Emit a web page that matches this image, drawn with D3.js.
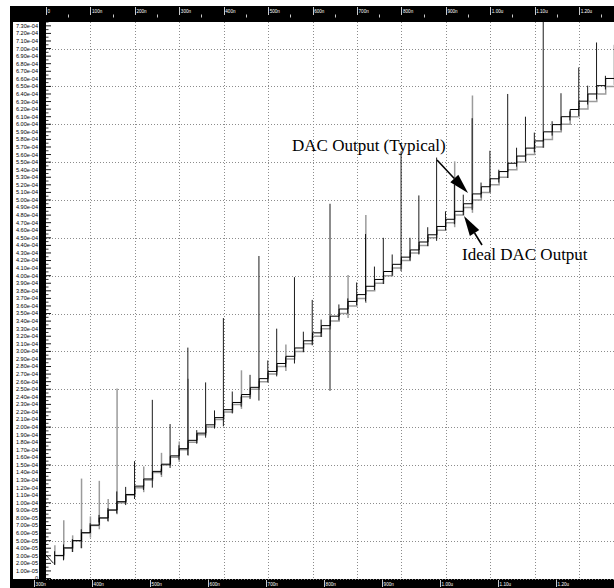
<!DOCTYPE html>
<html><head><meta charset="utf-8">
<script src="https://cdn.jsdelivr.net/npm/d3@7"></script>
<style>html,body{margin:0;padding:0;background:#fff;}svg{display:block;}</style>
</head><body>
<svg id="chart" width="614" height="588"></svg>
<script>
// ---- data (current in units of 1e-5 A, time in ns) ----
// start of each code interval (each lasts 20 ns)
const stepStart = [20,40,60,80,100,120,140,160,180,200,220,240,260,280,300,320,340,360,380,400,
  420,440,460,480,500,520,540,560,580,600,620,640,660,680,700,720,740,760,780,800,
  820,840,860,880,900,920,940,960,980,1000,1020,1040,1060,1080,1100,1120,1140,1160,1180,1200,
  1220,1240,1260];
const stepEnd = 1280;
// ideal DAC output level in each interval
const idealLevel = [3,4,5,6,7,8,9,10,11,12,13,14,15,16,17,18,19,20,21,22,
  23,24,25,26,27,28,29,30,31,32,33,34,35,36,37,38,39,40,41,42,
  43,44,45,46,47,48,49,50,51,52,53,54,55,56,57,58,59,60,61,62,
  63,64,65];
// typical DAC output level in each interval
const typicalLevel = [3.05,4.05,5.0,6.05,7.05,8.0,9.05,
  10.15,11.1,12.2,13.15,14.15,15.1,16.2,17.15,
  18.25,19.2,20.3,21.25,22.3,23.25,24.3,25.25,
  26.4,27.35,28.4,29.35,30.45,31.4,32.45,33.4,
  34.65,35.6,36.6,37.5,38.6,39.5,40.55,41.5,
  42.45,43.4,44.45,45.4,46.5,47.45,48.5,49.5,
  50.8,51.75,52.8,53.75,54.85,55.8,56.85,57.8,
  59.0,59.95,61.0,61.95,63.05,64.0,65.1,66.05];
// settling of the typical output before the first code edge
const settleTime = [0,17];
const settleLevel = [3.1,2.0];
// code-edge glitches of the typical output
const glitchTime = [20,40,60,80,100,120,140,160,180,200,220,240,260,280,300,320,340,360,380,400,
  420,440,460,480,500,520,540,560,580,600,620,640,660,680,700,720,740,760,780,800,
  820,840,860,880,900,920,940,960,980,1000,1020,1040,1060,1080,1100,1120,1140,1160,1180,1200,
  1220,1240,1260,1280];
const glitchHigh = [3.6,4.5,5.2,6.5,7.3,8.4,9.3,11.5,12.1,15.5,12.3,23.6,14.5,20.4,17.6,30.5,19.6,25.9,22.2,34.4,
  24.7,24.0,26.9,42.6,28.8,33.0,29.2,39.8,32.6,36.8,34.2,49.5,36.2,37.0,39.1,45.5,41.2,45.0,42.8,56.4,
  45.0,50.6,46.4,55.6,48.5,52.0,50.7,60.8,52.3,56.5,54.0,64.0,56.9,61.0,58.9,74.5,60.4,64.1,61.7,67.5,
  65.1,70.8,66.4,70.5];
const glitchLow = [1.8,2.4,3.5,4.0,6.0,7.4,7.6,8.6,9.7,10.5,11.7,12.0,13.7,14.6,15.7,16.3,17.8,18.6,19.8,20.1,
  21.8,22.7,23.7,23.5,25.9,26.7,27.9,28.4,29.9,30.8,31.9,24.8,34.1,35.0,36.1,36.6,38.1,38.9,40.0,40.6,
  42.0,42.8,43.9,44.6,46.0,46.8,48.0,48.7,50.3,51.0,52.3,52.9,54.4,55.1,56.3,56.9,58.5,59.2,60.5,61.1,
  62.6,63.3,64.6,65.2];
// code-edge glitches of the ideal trace
const idealGlitchTime = [20,40,60,80,100,120,140,160,220,260,300,320,440,540,680,720,920,960];
const idealGlitchHigh = [4.4,7.7,5.7,13.2,8.2,12.9,10.5,25.1,14.8,16.6,18.1,26.4,27.5,30.9,40.1,48.0,55.1,63.8];
const idealGlitchLow = [1.8,2.5,3.5,4.0,5.4,6.5,7.5,8.5,11.4,13.4,15.4,16.2,22.4,27.4,34.4,36.4,46.4,48.3];

// axis ticks
const topTicks = [0,100,200,300,400,500,600,700,800,900,1000,1100,1200];
const topLabels = ["0","100n","200n","300n","400n","500n","600n","700n","800n","900n","1.00u","1.10u","1.20u"];
const bottomTicks = [300,400,500,600,700,800,900,1000,1100,1200];
const bottomLabels = ["300n","400n","500n","600n","700n","800n","900n","1.00u","1.10u","1.20u"];
const gridY = [0,5,10,15,20,25,30,35,40,45,50,55,60,65,70];
const gridX = [100,200,300,400,500,600,700,800,900,1000,1100,1200];
const yLabelMax = 73;

// ---- scales ----
const svg = d3.select("#chart");
const x = d3.scaleLinear().domain([0, 1280]).range([46, 614.6]);
const xb = d3.scaleLinear().domain([300, 1300]).range([34, 614]);
const y = d3.scaleLinear().domain([0, 73.6]).range([578.5, 21.3]);

// ---- frame ----
svg.append("rect").attr("x", 10).attr("y", 6).attr("width", 604).attr("height", 16).attr("fill", "#000");
svg.append("rect").attr("x", 10).attr("y", 579).attr("width", 604).attr("height", 9).attr("fill", "#000");
svg.append("rect").attr("x", 10).attr("y", 6).attr("width", 3).attr("height", 582).attr("fill", "#000");
svg.append("rect").attr("x", 39).attr("y", 6).attr("width", 7).attr("height", 582).attr("fill", "#000");

// ---- grid ----
const grid = svg.append("g").attr("stroke", "#8c8c8c").attr("stroke-width", 1).attr("stroke-dasharray", "1,2");
grid.selectAll("line.gy").data(gridY).join("line").attr("class", "gy")
  .attr("x1", 46).attr("x2", 614).attr("y1", d => Math.round(y(d)) + 0.5).attr("y2", d => Math.round(y(d)) + 0.5);
grid.selectAll("line.gx").data(gridX).join("line").attr("class", "gx")
  .attr("x1", d => Math.round(x(d)) + 0.5).attr("x2", d => Math.round(x(d)) + 0.5).attr("y1", 22).attr("y2", 578);

// ---- left axis ----
const yMajor = d3.range(0, yLabelMax + 1);
const yMinor = d3.range(0.5, yLabelMax + 0.6, 1);
const fmt = v => {
  if (v === 0) return "0";
  const s = (v * 1e-5).toExponential(2);
  const [m, e] = s.split("e");
  const n = Math.abs(+e);
  return m + "e" + (+e < 0 ? "-" : "+") + (n < 10 ? "0" + n : n);
};
const yAx = svg.append("g");
yAx.selectAll("line.mj").data(yMajor).join("line").attr("class", "mj")
  .attr("x1", 45).attr("x2", 51).attr("y1", d => y(d)).attr("y2", d => y(d))
  .attr("stroke", "#000").attr("stroke-width", 0.9);
yAx.selectAll("line.mn").data(yMinor).join("line").attr("class", "mn")
  .attr("x1", 45).attr("x2", 48.5).attr("y1", d => y(d)).attr("y2", d => y(d))
  .attr("stroke", "#000").attr("stroke-width", 0.8);
yAx.selectAll("text").data(yMajor).join("text")
  .attr("x", 38).attr("y", d => y(d)).attr("dy", "0.35em").attr("text-anchor", "end")
  .attr("font-family", "Liberation Sans, Arial, sans-serif").attr("font-size", 5.6).attr("fill", "#000")
  .text(fmt);

// ---- top axis ----
const tAx = svg.append("g");
tAx.selectAll("line.tk").data(topTicks).join("line").attr("class", "tk")
  .attr("x1", d => Math.round(x(d)) + 0.5).attr("x2", d => Math.round(x(d)) + 0.5).attr("y1", 7).attr("y2", 15)
  .attr("stroke", "#fff").attr("stroke-width", 0.8);
tAx.selectAll("line.mt").data(topTicks).join("line").attr("class", "mt")
  .attr("x1", d => Math.round(x(d + 50)) + 0.5).attr("x2", d => Math.round(x(d + 50)) + 0.5).attr("y1", 14.5).attr("y2", 17.5)
  .attr("stroke", "#fff").attr("stroke-width", 0.8);
tAx.selectAll("text").data(topTicks).join("text")
  .attr("x", d => x(d) + 1.6).attr("y", 12.5)
  .attr("font-family", "Liberation Sans, Arial, sans-serif").attr("font-size", 4.6).attr("fill", "#fff")
  .text((d, i) => topLabels[i]);

// ---- bottom axis ----
const bAx = svg.append("g");
bAx.selectAll("line").data(bottomTicks).join("line")
  .attr("x1", d => Math.round(xb(d)) + 0.5).attr("x2", d => Math.round(xb(d)) + 0.5).attr("y1", 580).attr("y2", 587)
  .attr("stroke", "#fff").attr("stroke-width", 0.8);
bAx.selectAll("text").data(bottomTicks).join("text")
  .attr("x", d => xb(d) + 1.6).attr("y", 586)
  .attr("font-family", "Liberation Sans, Arial, sans-serif").attr("font-size", 4.6).attr("fill", "#fff")
  .text((d, i) => bottomLabels[i]);

// ---- traces ----
svg.append("clipPath").attr("id", "plotClip").append("rect")
  .attr("x", 46).attr("y", 21).attr("width", 568).attr("height", 558);
const plot = svg.append("g").attr("clip-path", "url(#plotClip)");

const stair = d3.line().x(d => x(d[0])).y(d => y(d[1])).curve(d3.curveStepAfter);
const idealPts = stepStart.map((t, i) => [t, idealLevel[i]]).concat([[stepEnd, idealLevel[idealLevel.length - 1]]]);
const typPts = stepStart.map((t, i) => [t, typicalLevel[i]]).concat([[stepEnd, typicalLevel[typicalLevel.length - 1]]]);

const grey = "#9b9b9b";
plot.append("path").attr("d", stair(idealPts)).attr("fill", "none").attr("stroke", grey).attr("stroke-width", 1.5);
plot.selectAll("line.ig").data(idealGlitchTime).join("line").attr("class", "ig")
  .attr("x1", d => x(d)).attr("x2", d => x(d))
  .attr("y1", (d, i) => y(idealGlitchLow[i])).attr("y2", (d, i) => y(idealGlitchHigh[i]))
  .attr("stroke", grey).attr("stroke-width", 1.5);

plot.append("path").attr("d", stair(typPts)).attr("fill", "none").attr("stroke", "#000").attr("stroke-width", 1.0);
plot.append("path")
  .attr("d", d3.line().x(d => x(d[0])).y(d => y(d[1]))(settleTime.map((t, i) => [t, settleLevel[i]])))
  .attr("fill", "none").attr("stroke", "#000").attr("stroke-width", 0.9);
plot.selectAll("line.tg").data(glitchTime).join("line").attr("class", "tg")
  .attr("x1", d => x(d) - 0.3).attr("x2", d => x(d) - 0.3)
  .attr("y1", (d, i) => y(glitchLow[i])).attr("y2", (d, i) => y(glitchHigh[i]))
  .attr("stroke", "#000").attr("stroke-width", 0.9);

// ---- annotations ----
const serif = "Liberation Serif, Times New Roman, serif";
svg.append("text").attr("x", 292).attr("y", 151).attr("font-family", serif).attr("font-size", 17)
  .attr("fill", "#000").text("DAC Output (Typical)");
svg.append("text").attr("x", 462).attr("y", 260).attr("font-family", serif).attr("font-size", 17)
  .attr("fill", "#000").text("Ideal DAC Output");

function arrow(x0, y0, x1, y1) {
  const ang = Math.atan2(y1 - y0, x1 - x0);
  const len = 20, half = 5.5;
  const bx = x1 - len * Math.cos(ang), by = y1 - len * Math.sin(ang);
  svg.append("line").attr("x1", x0).attr("y1", y0).attr("x2", bx).attr("y2", by)
    .attr("stroke", "#000").attr("stroke-width", 1.6);
  const px = -Math.sin(ang) * half, py = Math.cos(ang) * half;
  svg.append("path")
    .attr("d", `M${x1},${y1}L${bx + px},${by + py}L${bx - px},${by - py}Z`)
    .attr("fill", "#000");
}
arrow(437, 160, 468, 193);
arrow(482, 245, 464, 216);
</script>
</body></html>
